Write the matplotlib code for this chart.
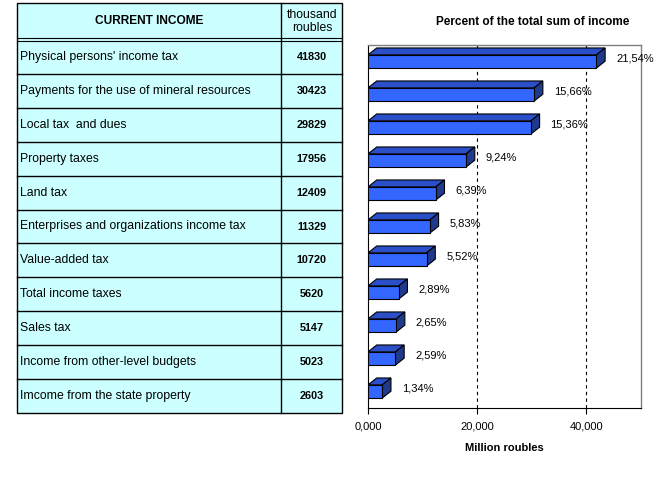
import matplotlib
matplotlib.use("Agg")
import matplotlib.pyplot as plt
from matplotlib.patches import Polygon, Rectangle

plt.rcParams['font.family'] = ['Liberation Sans', 'DejaVu Sans']

categories = [
    "Physical persons' income tax",
    "Payments for the use of mineral resources",
    "Local tax  and dues",
    "Property taxes",
    "Land tax",
    "Enterprises and organizations income tax",
    "Value-added tax",
    "Total income taxes",
    "Sales tax",
    "Income from other-level budgets",
    "Imcome from the state property",
]
values = [41830, 30423, 29829, 17956, 12409, 11329, 10720, 5620, 5147, 5023, 2603]
percent_labels = ["21,54%", "15,66%", "15,36%", "9,24%", "6,39%", "5,83%",
                  "5,52%", "2,89%", "2,65%", "2,59%", "1,34%"]
xticks = [0, 20000, 40000]
xtick_labels = ["0,000", "20,000", "40,000"]
header_left = "CURRENT INCOME"
header_right = "thousand\nroubles"
title = "Percent of the total sum of income"
xlabel = "Million roubles"

W, H = 660, 480
fig = plt.figure(figsize=(W / 100, H / 100), dpi=100)

# ---------- table (pixel coordinates overlay) ----------
tab = fig.add_axes([0, 0, 1, 1])
tab.set_xlim(0, W)
tab.set_ylim(H, 0)
tab.axis("off")

x0, xm, x1 = 17, 281, 342
y_top, y_head, y_bot = 3, 40, 413
n = len(categories)
row_h = (y_bot - y_head) / n
bg = "#CCFFFF"
tab.add_patch(Rectangle((x0, y_top), x1 - x0, y_bot - y_top, facecolor=bg,
                        edgecolor="black", lw=1))
tab.plot([xm, xm], [y_top, y_bot], color="black", lw=1)
tab.plot([x0, x1], [y_head - 2, y_head - 2], color="black", lw=0.8)
tab.plot([x0, x1], [y_head + 1, y_head + 1], color="black", lw=0.8)
for i in range(1, n):
    yy = y_head + i * row_h
    tab.plot([x0, x1], [yy, yy], color="black", lw=1)
tab.text((x0 + xm) / 2, (y_top + y_head) / 2, header_left, ha="center",
         va="center", fontsize=8.6, fontweight="bold")
tab.text((xm + x1) / 2 + 1, (y_top + y_head) / 2, header_right, ha="center",
         va="center", fontsize=8.8, linespacing=1.1)
for i, (c, v) in enumerate(zip(categories, values)):
    yc = y_head + (i + 0.5) * row_h
    tab.text(x0 + 3, yc, c, ha="left", va="center", fontsize=8.8)
    tab.text((xm + x1) / 2, yc, str(v), ha="center", va="center",
             fontsize=7.8, fontweight="bold")

# ---------- bar chart ----------
L, R, T, B = 368, 641, 45, 408
ax = fig.add_axes([L / W, 1 - B / H, (R - L) / W, (B - T) / H])
xmax = 50000
ax.set_xlim(0, xmax)
ax.set_ylim(n - 0.5, -0.5)

bh = 0.40
dx = 1600
dy = 0.21
front = "#3366FF"
topc = "#2A4FC8"
sidec = "#1F3A8C"
for i, v in enumerate(values):
    y1 = i - bh / 2
    y2 = i + bh / 2
    ax.add_patch(Polygon([(0, y1), (v, y1), (v + dx, y1 - dy), (dx, y1 - dy)],
                         closed=True, facecolor=topc, edgecolor="black", lw=0.8,
                         zorder=3))
    ax.add_patch(Polygon([(v, y1), (v, y2), (v + dx, y2 - dy), (v + dx, y1 - dy)],
                         closed=True, facecolor=sidec, edgecolor="black", lw=0.8,
                         zorder=3))
    ax.barh(i, v, height=bh, color=front, edgecolor="black", lw=0.8, zorder=3)
    ax.text(v + dx + 2000, i - dy / 2, percent_labels[i], ha="left",
            va="center", fontsize=8, zorder=4)

for xv in xticks[1:]:
    ax.axvline(xv, color="black", ls=(0, (3, 3)), lw=0.8, zorder=1)

ax.set_xticks(xticks)
ax.set_xticklabels(xtick_labels, fontsize=8)
ax.set_yticks([])
ax.tick_params(axis="x", direction="out", length=4, width=0.8, pad=6)
for s in ("left", "bottom"):
    ax.spines[s].set_color("black")
    ax.spines[s].set_linewidth(0.8)
for s in ("top", "right"):
    ax.spines[s].set_color("#808080")
    ax.spines[s].set_linewidth(1)
ax.set_xlabel(xlabel, fontsize=8, fontweight="bold", labelpad=8)

fig.text(533 / W, 1 - 22 / H, title, ha="center", va="center", fontsize=8.5,
         fontweight="bold")

fig.savefig("out.png", dpi=100)
